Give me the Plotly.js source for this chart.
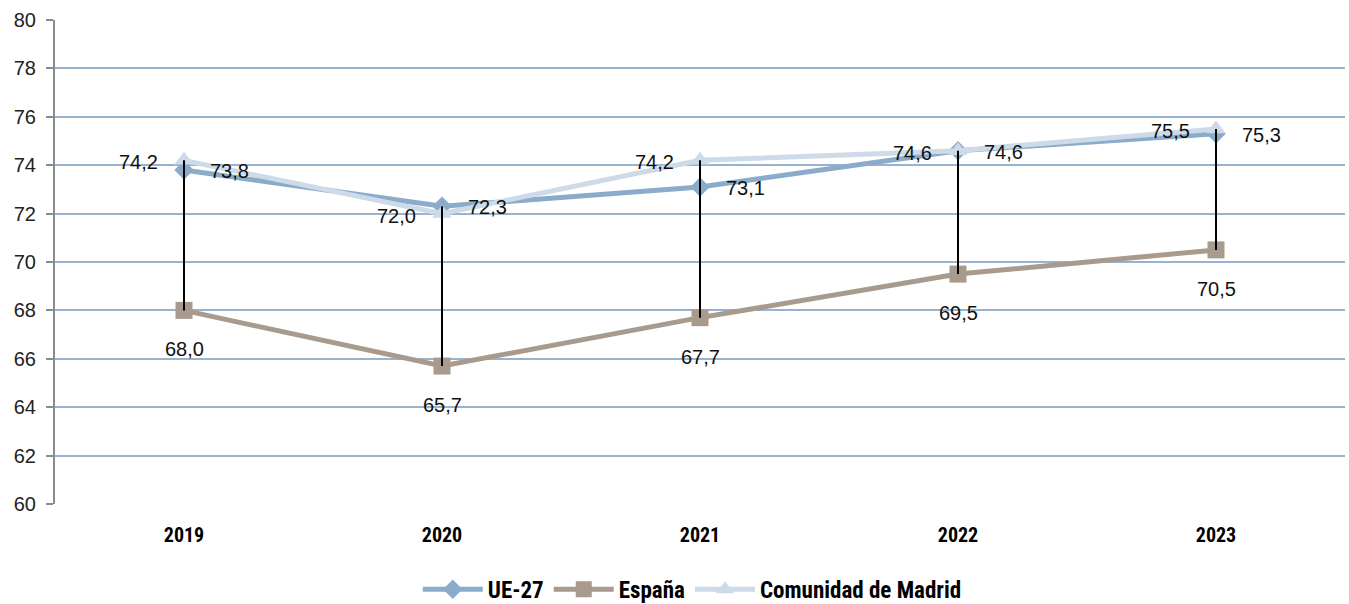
<!DOCTYPE html>
<html>
<head>
<meta charset="utf-8">
<script src="https://cdn.plot.ly/plotly-3.0.1.min.js"></script>
<style>
html,body{margin:0;padding:0;background:#fff;}
#chart{width:1349px;height:604px;}
</style>
</head>
<body>
<div id="chart"></div>
<script>
const years = ['2019', '2020', '2021', '2022', '2023'];
const ue27 = [73.8, 72.3, 73.1, 74.6, 75.3];
const espana = [68.0, 65.7, 67.7, 69.5, 70.5];
const madrid = [74.2, 72.0, 74.2, 74.6, 75.5];
const seriesNames = ['UE-27', 'España', 'Comunidad de Madrid'];

const cUE = '#8babcb';
const cES = '#a89a8d';
const cMA = '#cddae7';
const fmt = v => v.toFixed(1).replace('.', ',');
const condensed = 'Roboto Condensed, DejaVu Sans Condensed, sans-serif';
const labelFont = {family: 'Liberation Sans, Arial, sans-serif', size: 20, color: '#111'};

// high-low lines derived from data
const hlX = [], hlY = [];
years.forEach((y, i) => {
  const vals = [ue27[i], espana[i], madrid[i]];
  hlX.push(y, y, null);
  hlY.push(Math.max(...vals), Math.min(...vals), null);
});

const traces = [
  {x: years, y: ue27, name: seriesNames[0], type: 'scatter', mode: 'lines+markers',
   line: {color: cUE, width: 5}, marker: {symbol: 'diamond', size: 15, color: cUE}, hoverinfo: 'skip'},
  {x: years, y: espana, name: seriesNames[1], type: 'scatter', mode: 'lines+markers',
   line: {color: cES, width: 5}, marker: {symbol: 'square', size: 17, color: cES}, hoverinfo: 'skip'},
  {x: years, y: madrid, name: seriesNames[2], type: 'scatter', mode: 'lines+markers',
   line: {color: cMA, width: 5}, marker: {symbol: 'triangle-up', size: 17, color: cMA}, hoverinfo: 'skip'},
  {x: hlX, y: hlY, type: 'scatter', mode: 'lines', line: {color: '#000', width: 2},
   showlegend: false, hoverinfo: 'skip', connectgaps: false}
];

// annotations on a category axis: use the category index as x
const annotations = [];
years.forEach((yr, i) => {
  annotations.push({x: i, y: ue27[i], xref: 'x', yref: 'y', text: fmt(ue27[i]), showarrow: false,
    xanchor: 'left', yanchor: 'middle', xshift: 24, yshift: -1, font: labelFont});
  annotations.push({x: i, y: madrid[i], xref: 'x', yref: 'y', text: fmt(madrid[i]), showarrow: false,
    xanchor: 'right', yanchor: 'middle', xshift: -24, yshift: -2, font: labelFont});
  annotations.push({x: i, y: espana[i], xref: 'x', yref: 'y', text: fmt(espana[i]), showarrow: false,
    xanchor: 'center', yanchor: 'middle', xshift: 0, yshift: -39, font: labelFont});
});

const layout = {
  width: 1349, height: 604,
  margin: {l: 55, r: 4, t: 20, b: 100, autoexpand: false},
  paper_bgcolor: '#fff', plot_bgcolor: '#fff',
  showlegend: true,
  legend: {orientation: 'h', x: 0.494, xanchor: 'center', y: -0.176, yanchor: 'middle',
    font: {family: condensed, size: 23, color: '#000', weight: 'bold'}, itemwidth: 60,
    traceorder: 'normal'},
  xaxis: {type: 'category', range: [-0.5, 4.5], showgrid: false, zeroline: false, showline: false,
    ticks: '', ticklabelstandoff: 17,
    tickfont: {family: condensed, size: 20, color: '#000', weight: 'bold'}, fixedrange: true},
  yaxis: {range: [60, 80], dtick: 2, tick0: 60, showgrid: true, gridcolor: '#97b3cf', gridwidth: 2,
    zeroline: false, showline: true, linecolor: '#8c8c8c', linewidth: 2,
    ticks: 'outside', ticklen: 7, tickcolor: '#8c8c8c', tickwidth: 2, ticklabelstandoff: 6,
    tickfont: {family: 'Liberation Sans, Arial, sans-serif', size: 20, color: '#222'}, fixedrange: true},
  annotations: annotations,
  hovermode: false
};

Plotly.newPlot('chart', traces, layout, {displayModeBar: false, staticPlot: true});
</script>
</body>
</html>
